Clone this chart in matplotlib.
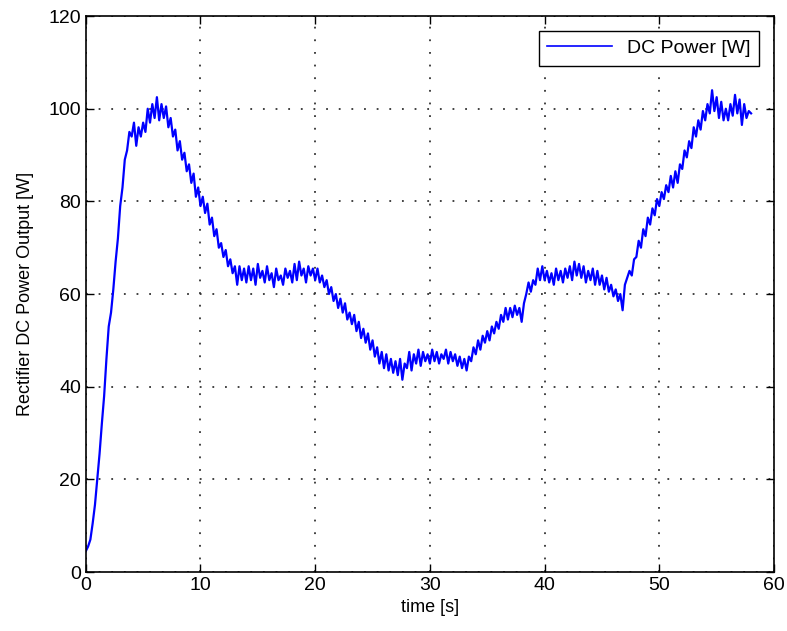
import numpy as np
import matplotlib.pyplot as plt

plt.rcParams['font.family'] = ['Liberation Sans', 'DejaVu Sans']

# power samples, one every 0.2 s (0 .. 58 s)
dt = 0.2
power = [
    4.5, 5.5, 7, 10.5, 14.5, 20, 25.5, 32, 38, 46,
    53, 56, 61, 67, 72, 79, 83, 89, 91, 95,
    94, 97, 92, 96, 94, 97, 95, 100, 97, 101,
    98, 102.5, 97.5, 101, 98, 100.5, 96, 98, 94, 95.5,
    91, 93, 89, 90.5, 86.5, 88, 84, 86, 81, 83,
    79, 81, 77.5, 79.5, 75, 76.5, 72.5, 74, 70, 71,
    68, 69.5, 66, 67.5, 64.5, 66, 62, 66, 63, 65.5,
    62.5, 66, 63, 65.5, 62, 66.5, 63.5, 65, 62.5, 66,
    63, 64.5, 61.5, 65.5, 63, 64, 62, 65.5, 63.5, 65,
    62.5, 66.5, 63, 67, 64, 65.5, 62.5, 66, 64, 65.5,
    63, 65.5, 62.5, 64, 61.5, 63, 60, 61.5, 58.5, 60,
    57, 59, 56, 58, 54.5, 56, 53.5, 55.5, 52, 54,
    50.5, 52.5, 49.5, 51.5, 48, 50, 46.5, 48.5, 45, 47.5,
    44, 47, 43.5, 46, 43, 45.5, 42.5, 46, 41.5, 45,
    44, 47.5, 43.5, 47, 45, 48, 44.5, 47.5, 45.5, 47,
    45, 48, 45.5, 47.5, 45, 47, 46, 48, 45, 47.5,
    45.5, 47, 44.5, 46.5, 44, 46, 43.5, 46.5, 45.5, 48.5,
    47, 50, 48, 51, 49.5, 52, 50, 53, 51.5, 54,
    52.5, 55.5, 54, 57, 54.5, 57, 55, 57.5, 55.5, 57,
    54, 58, 60, 62.5, 60.5, 63, 62, 65.5, 63, 66,
    63, 65, 62.5, 64.5, 62, 65.5, 63, 65, 62.5, 65.5,
    63.5, 66, 63, 67, 64, 66.5, 63.5, 66, 62.5, 65,
    63, 65.5, 62, 65, 62, 64, 61, 63.5, 60.5, 62,
    59.5, 61, 58.5, 60, 56.5, 62, 63.5, 65, 64, 67.5,
    68, 71.5, 70, 74, 72.5, 76.5, 75, 78.5, 77, 80.5,
    79, 82, 80.5, 83.5, 82, 85.5, 83, 86.5, 84, 88,
    87, 91, 89.5, 93, 91.5, 96, 94, 97.5, 95.5, 99.5,
    97.5, 101, 99, 104, 99.5, 102.5, 98, 101.5, 97.5, 100,
    97.5, 101, 98.5, 103, 99, 102, 96.5, 101, 98, 99.5,
    99,
]
time = np.arange(len(power)) * dt

xticks = [0, 10, 20, 30, 40, 50, 60]
yticks = [0, 20, 40, 60, 80, 100, 120]

fig = plt.figure(figsize=(7.87, 6.31), dpi=100)
ax = fig.add_axes([0.109, 0.0935, 0.8745, 0.881])

ax.plot(time, power, color='#0000ff', linewidth=1.6, label='DC Power [W]')

ax.set_xlim(0, 60)
ax.set_ylim(0, 120)
ax.set_xticks(xticks)
ax.set_yticks(yticks)
ax.tick_params(direction='in', top=True, right=True, labelsize=14, length=6, width=1)
ax.grid(True, linestyle=(0, (1, 6)), color='#333333', linewidth=1.3)
for s in ax.spines.values():
    s.set_linewidth(1.2)

ax.set_xlabel('time [s]', fontsize=13)
ax.set_ylabel('Rectifier DC Power Output [W]', fontsize=13, labelpad=10)

leg = ax.legend(loc='upper right', fontsize=14, fancybox=False, framealpha=1,
                edgecolor='black', handlelength=3.3, borderpad=0.45,
                borderaxespad=0.75)
leg.get_frame().set_linewidth(1.0)
leg.get_lines()[0].set_linewidth(1.2)

fig.savefig('out.png', dpi=100)
